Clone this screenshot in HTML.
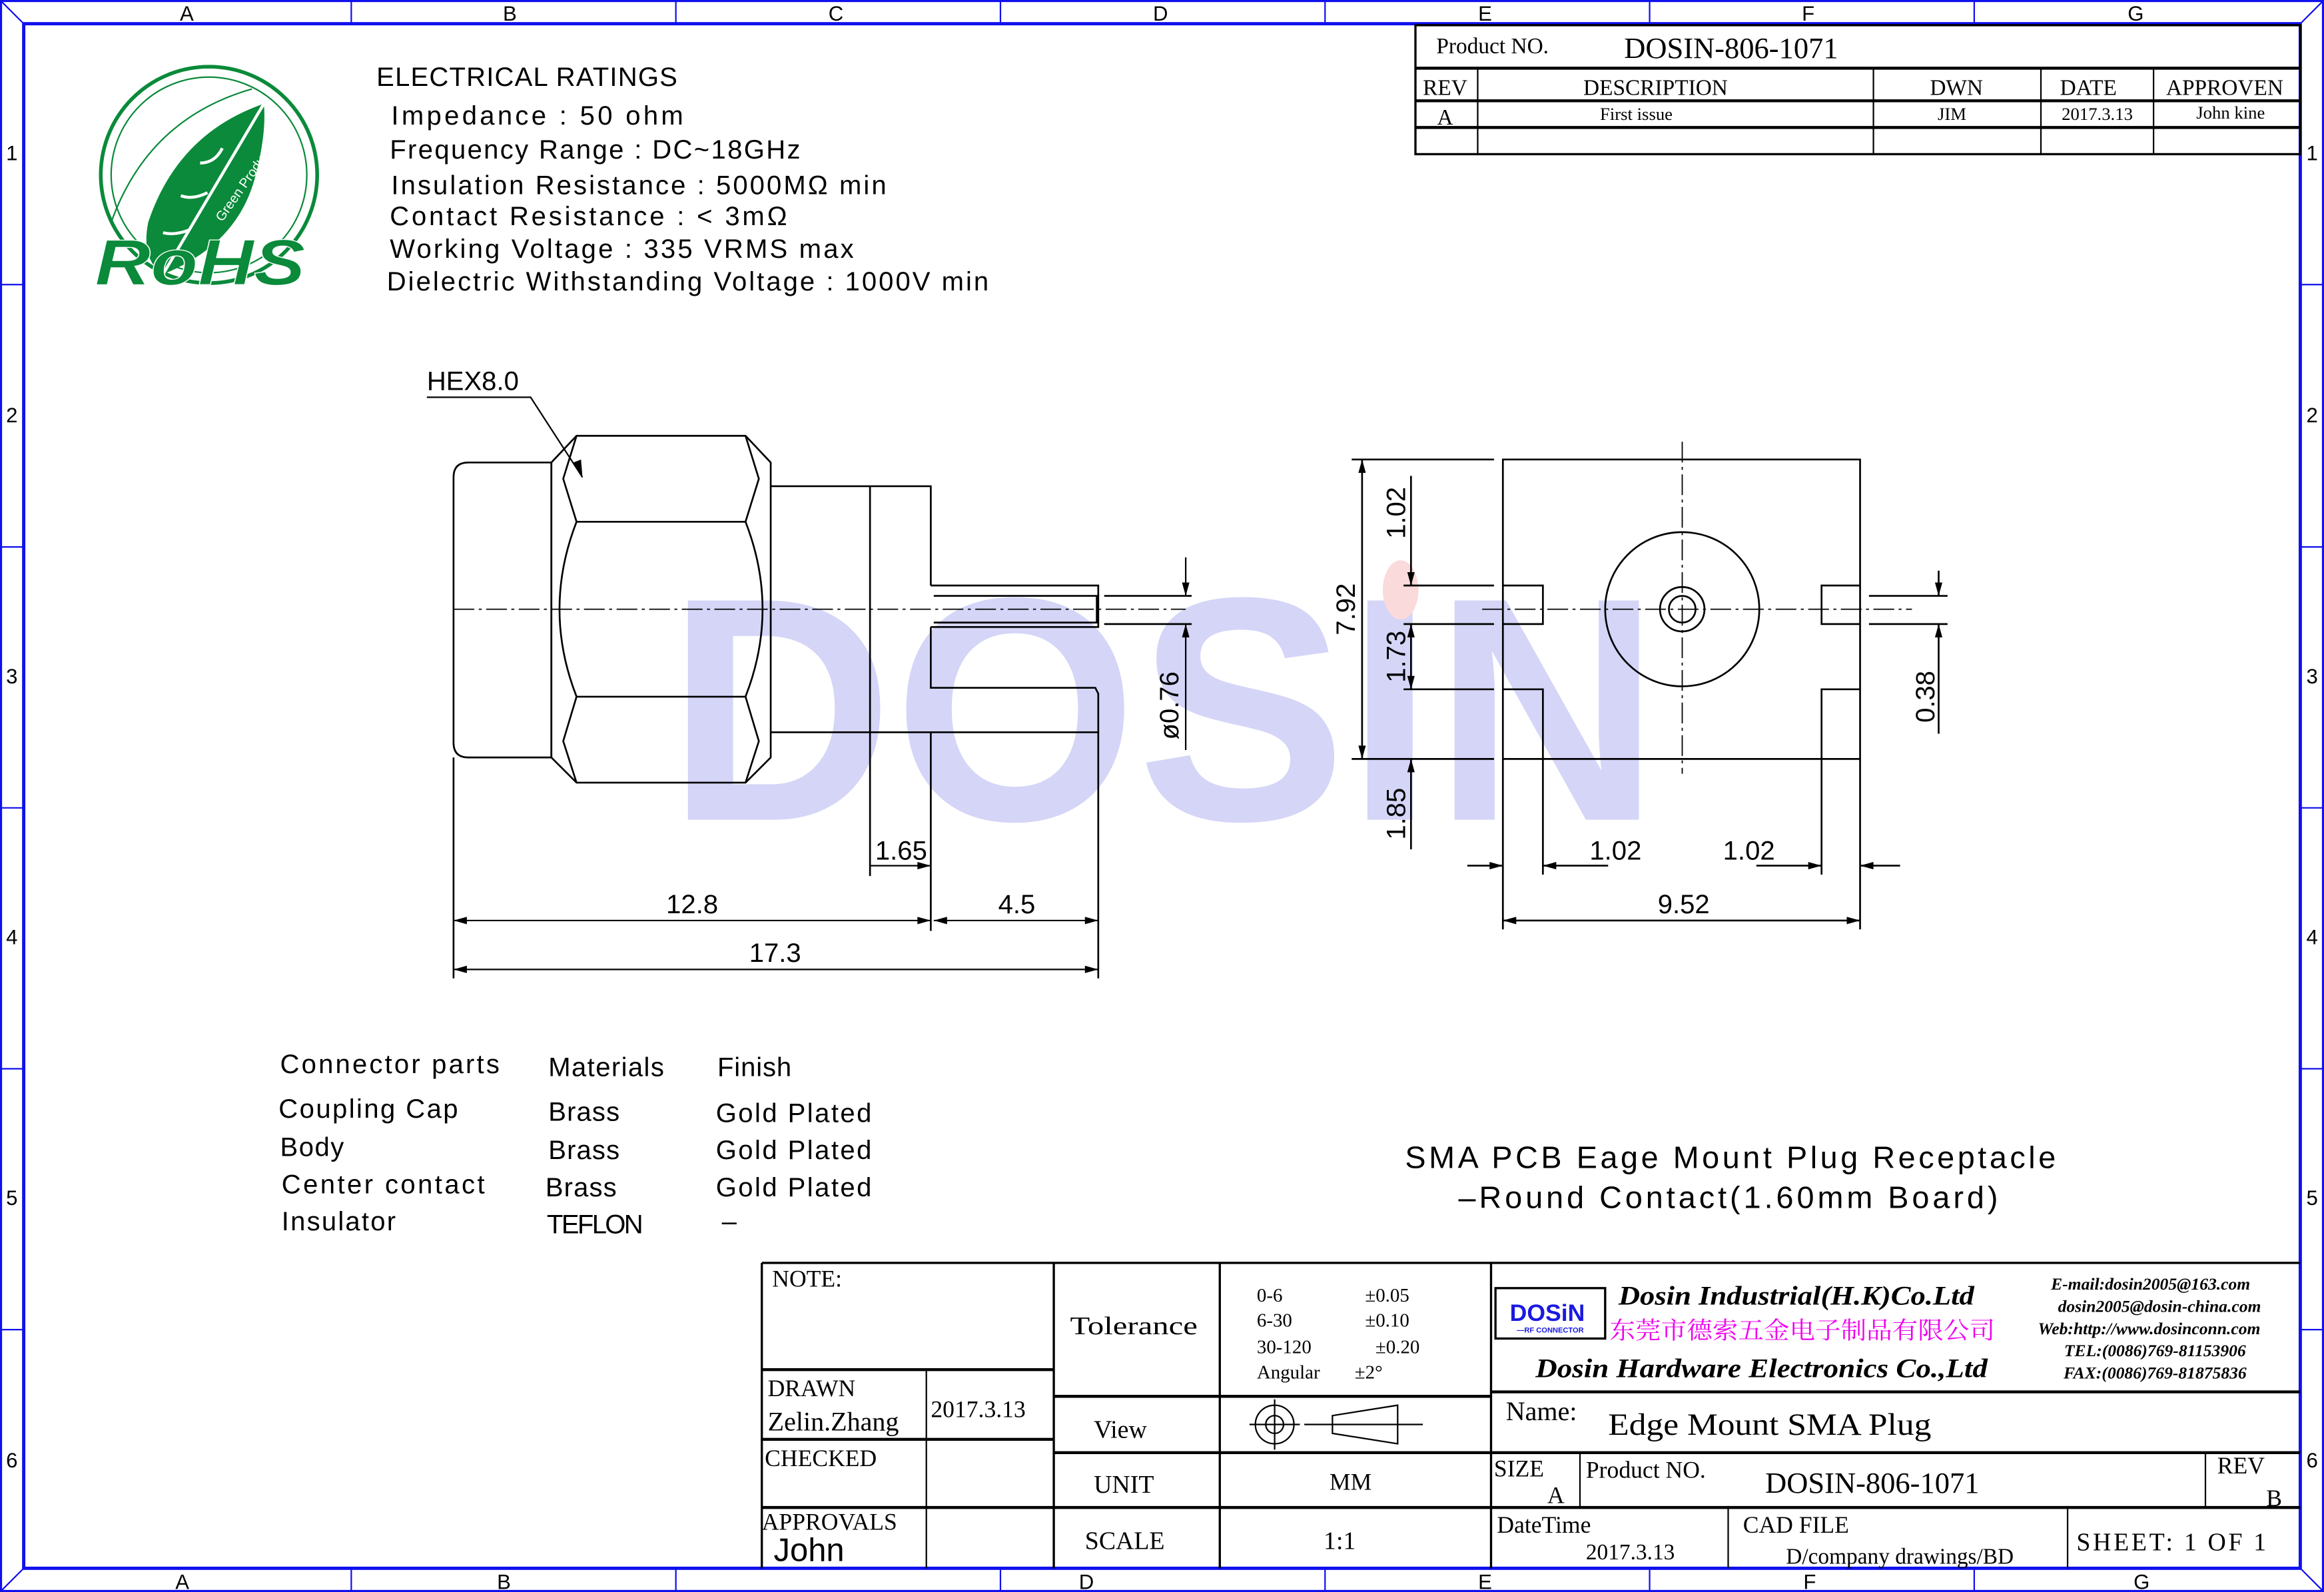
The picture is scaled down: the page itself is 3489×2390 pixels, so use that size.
<!DOCTYPE html>
<html><head><meta charset="utf-8"><style>html,body{margin:0;padding:0;background:#fff}svg{display:block}</style></head>
<body>
<svg xmlns="http://www.w3.org/2000/svg" width="3489" height="2390" viewBox="0 0 1568 1074" preserveAspectRatio="none">
<rect width="1568" height="1074" fill="#fff"/>
<g stroke="#1010ee" fill="none">
<rect x="0.7" y="0.7" width="1566.6" height="1072.6" stroke-width="1.4"/>
<rect x="16" y="16" width="1536" height="1042" stroke-width="2.2"/>
<path d="M237 0V16M456 0V16M675 0V16M894 0V16M1113 0V16M1332 0V16M237 1058V1074M456 1058V1074M675 1058V1074M894 1058V1074M1113 1058V1074M1332 1058V1074M0 192H16M0 369H16M0 545H16M0 721H16M0 897H16M1552 192H1568M1552 369H1568M1552 545H1568M1552 721H1568M1552 897H1568M0 0L16 16M1568 0L1552 16M0 1074L16 1058M1568 1074L1552 1058" stroke-width="1"/>
</g>
<g font-family="Liberation Sans, sans-serif" font-size="14" fill="#000" text-anchor="middle">
<text x="126" y="14">A</text><text x="344" y="14">B</text><text x="564" y="14">C</text><text x="783" y="14">D</text><text x="1002" y="14">E</text><text x="1220" y="14">F</text><text x="1441" y="14">G</text>
<text x="123" y="1072">A</text><text x="340" y="1072">B</text><text x="733" y="1072">D</text><text x="1002" y="1072">E</text><text x="1221" y="1072">F</text><text x="1445" y="1072">G</text>
<text x="8" y="108">1</text><text x="8" y="285">2</text><text x="8" y="461">3</text><text x="8" y="637">4</text><text x="8" y="813">5</text><text x="8" y="990">6</text>
<text x="1560" y="108">1</text><text x="1560" y="285">2</text><text x="1560" y="461">3</text><text x="1560" y="637">4</text><text x="1560" y="813">5</text><text x="1560" y="990">6</text>
</g>
<!-- RoHS logo -->
<g fill="none" stroke="#0a8a3a">
<circle cx="141" cy="118" r="73" stroke-width="2.5"/>
<circle cx="141" cy="118" r="66" stroke-width="1"/>
<path d="M75 150 Q100 80 170 60" stroke-width="1"/>
</g>
<path d="M178 70 Q120 90 100 150 Q95 175 110 185 Q160 165 172 120 Q180 90 178 70Z" fill="#0a8a3a"/>
<path d="M178 70 L110 185 M150 100 q-5 10 -15 10 M140 130 q-10 5 -18 2 M128 155 q-10 4 -18 2" stroke="#fff" stroke-width="2" fill="none"/>
<text x="150" y="150" font-family="Liberation Sans, sans-serif" font-size="9" fill="#fff" transform="rotate(-55 150 150)">Green Product</text>
<text x="135" y="192" font-family="Liberation Sans, sans-serif" font-weight="bold" font-style="italic" font-size="44" fill="#0a8a3a" stroke="#fff" stroke-width="0.6" text-anchor="middle" textLength="142" lengthAdjust="spacingAndGlyphs">RoHS</text>
<!-- ratings -->
<g font-family="Liberation Sans, sans-serif" font-size="18" fill="#000" lengthAdjust="spacingAndGlyphs">
<text x="254" y="58" textLength="203">ELECTRICAL  RATINGS</text>
<text x="264" y="84" textLength="197">Impedance :  50 ohm</text>
<text x="263" y="107" textLength="277">Frequency Range :  DC~18GHz</text>
<text x="264" y="131" textLength="334">Insulation Resistance :  5000MΩ min</text>
<text x="263" y="152" textLength="268">Contact Resistance :  &lt; 3mΩ</text>
<text x="263" y="174" textLength="313">Working Voltage :  335 VRMS max</text>
<text x="261" y="196" textLength="406">Dielectric Withstanding Voltage :  1000V min</text>
</g>
<!-- watermark -->
<text x="785" y="553" font-family="Liberation Sans, sans-serif" font-weight="bold" font-size="215" fill="#d4d5f7" text-anchor="middle" textLength="670" lengthAdjust="spacingAndGlyphs">DOSIN</text>
<ellipse cx="945" cy="398" rx="12" ry="20" fill="#fadada"/>
<!-- left view -->
<g stroke="#000" stroke-width="1.2" fill="none">
<path d="M372 312H316Q306 312 306 322V501Q306 511 316 511H372"/>
<path d="M372 312L389 294H503L520 312V511L503 528H389L372 511Z"/>
<path d="M372 312V511M389 352H503M389 470H503"/>
<path d="M389 294L380 323L389 352M503 294L512 323L503 352M389 470L380 500L389 528M503 470L512 500L503 528"/>
<path d="M389 352Q366 411 389 470M503 352Q526 411 503 470"/>
<path d="M520 328H628V395M628 423V464H739L741 468V494H520"/>
<path d="M587 328V494"/>
<path d="M628 395H741V423H628M630 402H740V420H630"/>
<path d="M745 402H804M745 421H804"/>
<path d="M306 511V660M587 494V591M628 494V628M741 494V660"/>
</g>
<g stroke="#000" stroke-width="0.8" stroke-dasharray="14 3 2 3"><path d="M306 411H800"/></g>
<text x="288" y="263" font-family="Liberation Sans, sans-serif" font-size="18">HEX8.0</text>
<path d="M288 268H358L393 322" stroke="#000" fill="none"/>
<path d="M393 322l-6 -10l5 -2z" fill="#000"/>
<g stroke="#000" stroke-width="1" fill="none">
<path d="M587 584H628M306 621H628M630 621H741M306 654H741M800 376V402M800 421V506"/>
</g>
<g fill="#000">
<path d="M628 584l-9 -2.5v5z"/><path d="M306 621l9 -2.5v5z"/><path d="M628 621l-9 -2.5v5z"/><path d="M630 621l9 -2.5v5z"/><path d="M741 621l-9 -2.5v5z"/><path d="M306 654l9 -2.5v5z"/><path d="M741 654l-9 -2.5v5z"/>
<path d="M800 402l-2.5 -9h5z"/><path d="M800 421l-2.5 9h5z"/>
</g>
<g font-family="Liberation Sans, sans-serif" font-size="18" fill="#000" text-anchor="middle">
<text x="608" y="580">1.65</text><text x="467" y="616">12.8</text><text x="686" y="616">4.5</text><text x="523" y="649">17.3</text>
<text transform="translate(795 476) rotate(-90)">ø0.76</text>
</g>
<!-- right view -->
<g stroke="#000" stroke-width="1.2" fill="none">
<path d="M1014 310H1255V512H1014Z"/>
<path d="M1014 395H1041V421H1014M1014 465H1041V512M1255 395H1229V421H1255M1255 465H1229V512"/>
<circle cx="1135" cy="411" r="52"/><circle cx="1135" cy="411" r="15"/><circle cx="1135" cy="411" r="9"/>
<path d="M912 310H1008M912 512H1008M947 395H1008M947 421H1008M947 465H1008M1261 402H1314M1261 421H1314"/>
<path d="M1014 512V627M1041 512V590M1229 512V590M1255 512V627"/>
<path d="M919 310V512M952 321V395M952 421V465M952 512V573M1308 385V402M1308 421V495"/>
<path d="M990 584H1014M1041 584H1085M1185 584H1229M1255 584H1282M1014 621H1255"/>
</g>
<g stroke="#000" stroke-width="0.8" stroke-dasharray="14 3 2 3"><path d="M1000 411H1290M1135 298V522"/></g>
<g fill="#000">
<path d="M919 310l-2.5 9h5z"/><path d="M919 512l-2.5 -9h5z"/>
<path d="M952 395l-2.5 -9h5z"/><path d="M952 421l-2.5 9h5z"/><path d="M952 465l-2.5 -9h5z"/><path d="M952 512l-2.5 9h5z"/>
<path d="M1308 402l-2.5 -9h5z"/><path d="M1308 421l-2.5 9h5z"/>
<path d="M1014 584l-9 -2.5v5z"/><path d="M1041 584l9 -2.5v5z"/><path d="M1229 584l-9 -2.5v5z"/><path d="M1255 584l9 -2.5v5z"/>
<path d="M1014 621l9 -2.5v5z"/><path d="M1255 621l-9 -2.5v5z"/>
</g>
<g font-family="Liberation Sans, sans-serif" font-size="18" fill="#000" text-anchor="middle">
<text transform="translate(914 411) rotate(-90)">7.92</text>
<text transform="translate(948 346) rotate(-90)">1.02</text>
<text transform="translate(948 443) rotate(-90)">1.73</text>
<text transform="translate(948 549) rotate(-90)">1.85</text>
<text transform="translate(1305 470) rotate(-90)">0.38</text>
<text x="1090" y="580">1.02</text><text x="1180" y="580">1.02</text><text x="1136" y="616">9.52</text>
</g>
<!-- materials -->
<g font-family="Liberation Sans, sans-serif" font-size="18" fill="#000" lengthAdjust="spacingAndGlyphs">
<text x="189" y="724" textLength="148">Connector  parts</text><text x="370" y="726" textLength="78">Materials</text><text x="484" y="726" textLength="50">Finish</text>
<text x="188" y="754" textLength="121">Coupling  Cap</text><text x="370" y="756" textLength="48">Brass</text><text x="483" y="757" textLength="105">Gold  Plated</text>
<text x="189" y="780" textLength="43">Body</text><text x="370" y="782" textLength="48">Brass</text><text x="483" y="782" textLength="105">Gold  Plated</text>
<text x="190" y="805" textLength="137">Center  contact</text><text x="368" y="807" textLength="48">Brass</text><text x="483" y="807" textLength="105">Gold  Plated</text>
<text x="190" y="830" textLength="77">Insulator</text><text x="369" y="832" textLength="65">TEFLON</text><text x="487" y="830">–</text>
</g>
<g font-family="Liberation Sans, sans-serif" font-size="21" fill="#000" lengthAdjust="spacingAndGlyphs">
<text x="948" y="788" textLength="439">SMA PCB  Eage  Mount  Plug  Receptacle</text>
<text x="984" y="815" textLength="364">–Round  Contact(1.60mm  Board)</text>
</g>
<!-- top right table -->
<g stroke="#000" fill="none">
<rect x="955" y="17" width="597" height="87" stroke-width="1.5"/>
<path d="M955 46H1552M955 68H1552M955 86H1552" stroke-width="2"/>
<path d="M997 46V104M1264 46V104M1377 46V104M1453 46V104" stroke-width="1"/>
</g>
<g font-family="Liberation Serif, serif" fill="#000" text-anchor="middle">
<text x="1007" y="36" font-size="15">Product NO.</text>
<text x="1168" y="39" font-size="20">DOSIN-806-1071</text>
<text x="975" y="64" font-size="15">REV</text><text x="1117" y="64" font-size="15">DESCRIPTION</text><text x="1320" y="64" font-size="15">DWN</text><text x="1409" y="64" font-size="15">DATE</text><text x="1501" y="64" font-size="15">APPROVEN</text>
<text x="975" y="84" font-size="15">A</text><text x="1104" y="81" font-size="12">First issue</text><text x="1317" y="81" font-size="12">JIM</text><text x="1415" y="81" font-size="12">2017.3.13</text><text x="1505" y="80" font-size="12">John kine</text>
</g>
<!-- title block -->
<g stroke="#000" fill="none">
<path d="M514 852H1552M514 852V1058M711 852V1058M823 852V1058M1006 852V1058" stroke-width="1.5"/>
<path d="M514 924H711M514 971H711M514 1017H711M711 942H1006M711 980H1006M711 1017H1006M1006 939H1552M1006 980H1552M1006 1017H1552" stroke-width="2"/>
<path d="M625 924V1058M1066 980V1017M1488 980V1017M1166 1017V1058M1395 1017V1058" stroke-width="1"/>
<rect x="1009" y="869" width="74" height="34" stroke-width="1.5"/>
</g>
<g font-family="Liberation Serif, serif" fill="#000" font-size="16">
<text x="521" y="868">NOTE:</text>
<text x="518" y="942">DRAWN</text><text x="518" y="965" font-size="18">Zelin.Zhang</text><text x="628" y="956">2017.3.13</text>
<text x="516" y="989">CHECKED</text>
<text x="514" y="1032">APPROVALS</text><text x="522" y="1053" font-family="Liberation Sans, sans-serif" font-size="22">John</text>
<text x="722" y="900" font-size="17" textLength="86" lengthAdjust="spacingAndGlyphs">Tolerance</text>
<text x="738" y="970" font-size="17">View</text>
<text x="738" y="1007" font-size="17">UNIT</text>
<text x="732" y="1045" font-size="17">SCALE</text>
<text x="848" y="878" font-size="13">0-6</text><text x="921" y="878" font-size="13">±0.05</text>
<text x="848" y="895" font-size="13">6-30</text><text x="921" y="895" font-size="13">±0.10</text>
<text x="848" y="913" font-size="13">30-120</text><text x="928" y="913" font-size="13">±0.20</text>
<text x="848" y="930" font-size="13">Angular</text><text x="914" y="930" font-size="13">±2°</text>
<text x="897" y="1005" font-size="16">MM</text><text x="893" y="1045" font-size="17">1:1</text>
<text x="1016" y="958" font-size="18">Name:</text>
<text x="1085" y="968" font-size="21" textLength="218" lengthAdjust="spacingAndGlyphs">Edge Mount SMA Plug</text>
<text x="1008" y="996" font-size="16">SIZE</text><text x="1044" y="1014" font-size="16">A</text>
<text x="1070" y="997" font-size="16">Product NO.</text>
<text x="1191" y="1007" font-size="20">DOSIN-806-1071</text>
<text x="1496" y="994" font-size="16">REV</text><text x="1529" y="1016" font-size="16">B</text>
<text x="1010" y="1034" font-size="16">DateTime</text><text x="1070" y="1052" font-size="15">2017.3.13</text>
<text x="1176" y="1034" font-size="16">CAD FILE</text><text x="1205" y="1055" font-size="15">D/company drawings/BD</text>
<text x="1401" y="1046" font-size="17" textLength="128" lengthAdjust="spacing">SHEET:  1 OF 1</text>
<g font-weight="bold" font-style="italic">
<text x="1092" y="880" font-size="18" textLength="240" lengthAdjust="spacingAndGlyphs">Dosin Industrial(H.K)Co.Ltd</text>
<text x="1036" y="929" font-size="18" textLength="305" lengthAdjust="spacingAndGlyphs">Dosin Hardware Electronics Co.,Ltd</text>
<g font-size="11.5" text-anchor="middle">
<text x="1451" y="870">E-mail:dosin2005@163.com</text>
<text x="1457" y="885">dosin2005@dosin-china.com</text>
<text x="1450" y="900">Web:http://www.dosinconn.com</text>
<text x="1454" y="915">TEL:(0086)769-81153906</text>
<text x="1454" y="930">FAX:(0086)769-81875836</text>
</g>
</g>
<text x="1086" y="903" font-family="Liberation Serif, 'Noto Serif CJK SC', serif" font-size="16" fill="#ee00ee" textLength="260" lengthAdjust="spacingAndGlyphs">东莞市德索五金电子制品有限公司</text>
<text x="1044" y="891" font-family="Liberation Sans, sans-serif" font-weight="bold" font-size="16" fill="#1a1ae0" text-anchor="middle">DOSiN</text>
<text x="1046" y="899" font-family="Liberation Sans, sans-serif" font-weight="bold" font-size="5" fill="#1a1ae0" text-anchor="middle">—RF CONNECTOR</text>
</g>
<g stroke="#000" fill="none" stroke-width="1">
<circle cx="860" cy="961" r="13"/><circle cx="860" cy="961" r="6"/>
<path d="M843 961H877M860 944V978M880 961H960M899 955L943 948V974L899 967Z"/>
</g>
</svg>
</body></html>
